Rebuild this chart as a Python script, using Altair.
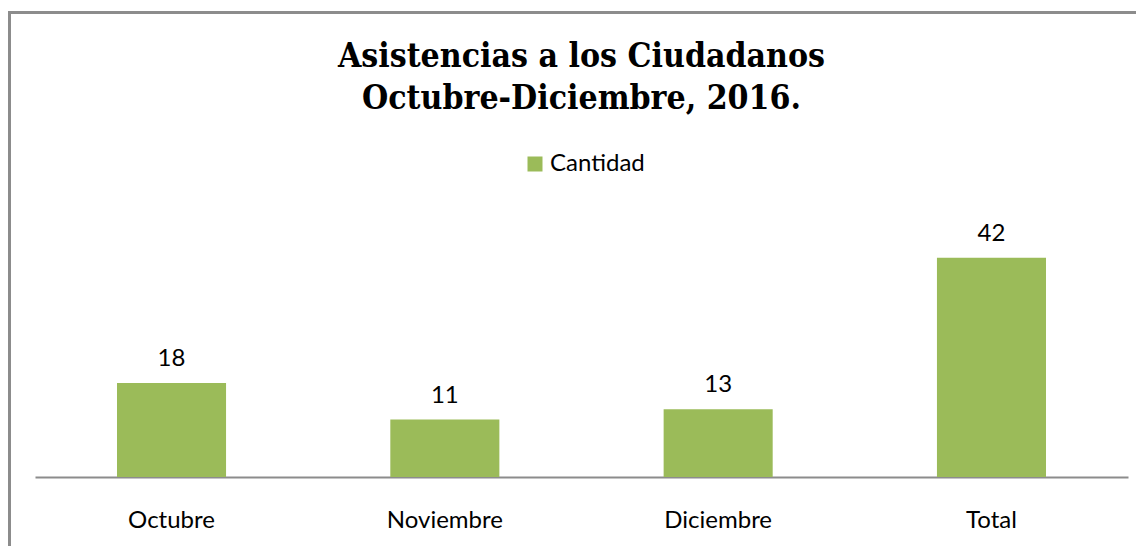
import altair as alt
import pandas as pd

categories = ["Octubre", "Noviembre", "Diciembre", "Total"]
values = [18, 11, 13, 42]
series_name = "Cantidad"
title_lines = ["Asistencias a los Ciudadanos", "Octubre-Diciembre, 2016."]

df = pd.DataFrame({"Mes": categories, "Valor": values, "Serie": [series_name] * len(categories)})

W, H = 1093, 261
PAD_L, PAD_T = 27, 208
TOTAL_W, TOTAL_H = 1128, 538

x_enc = alt.X("Mes:N", sort=categories,
              scale=alt.Scale(paddingInner=0.601, paddingOuter=0.3),
              axis=alt.Axis(title=None, labelAngle=0, ticks=False, tickSize=0,
                            domainColor="#8c8c8c", domainWidth=2,
                            labelFont="Lato", labelFontSize=24, labelColor="#000000",
                            labelBaseline="alphabetic", labelPadding=50))
y_enc = alt.Y("Valor:Q", scale=alt.Scale(domain=[0, 50]), axis=None)

bars = alt.Chart(df).mark_bar(color="#9BBB59").encode(
    x=x_enc, y=y_enc,
    color=alt.Color("Serie:N", scale=alt.Scale(range=["#9BBB59"]),
                    legend=alt.Legend(title=None, orient="none", legendX=488, legendY=-64,
                                      symbolType="square", symbolSize=225,
                                      symbolStrokeWidth=0, labelFont="Lato",
                                      labelFontSize=24, labelColor="#000000",
                                      labelOffset=3, padding=0))
)

labels = alt.Chart(df).mark_text(font="Lato", fontSize=24, color="#000000",
                                 baseline="alphabetic", dy=-17).encode(
    x=alt.X("Mes:N", sort=categories), y="Valor:Q", text="Valor:Q"
)

frame_df = pd.DataFrame({"k": [0]})
left_border = alt.Chart(frame_df).mark_rule(color="#8c8c8c", strokeWidth=3).encode(
    x=alt.value(-PAD_L + 1.5), y=alt.value(-PAD_T + 3), y2=alt.value(TOTAL_H - PAD_T)
)
top_border = alt.Chart(frame_df).mark_rule(color="#8c8c8c", strokeWidth=3).encode(
    x=alt.value(-PAD_L), x2=alt.value(TOTAL_W - PAD_L), y=alt.value(-PAD_T + 4.5)
)

chart = alt.layer(bars, labels, left_border, top_border).properties(
    width=W, height=H,
    padding={"left": PAD_L, "top": PAD_T, "right": TOTAL_W - PAD_L - W, "bottom": TOTAL_H - PAD_T - H},
    autosize=alt.AutoSizeParams(type="none"),
    title=alt.TitleParams(text=title_lines, font="DejaVu Serif Condensed", fontSize=33.5,
                          fontWeight="bold", color="#000000", anchor="middle",
                          lineHeight=42, offset=-107),
).configure_view(stroke=None)

chart.save("out.html", embed_options={"renderer": "svg", "actions": False})
